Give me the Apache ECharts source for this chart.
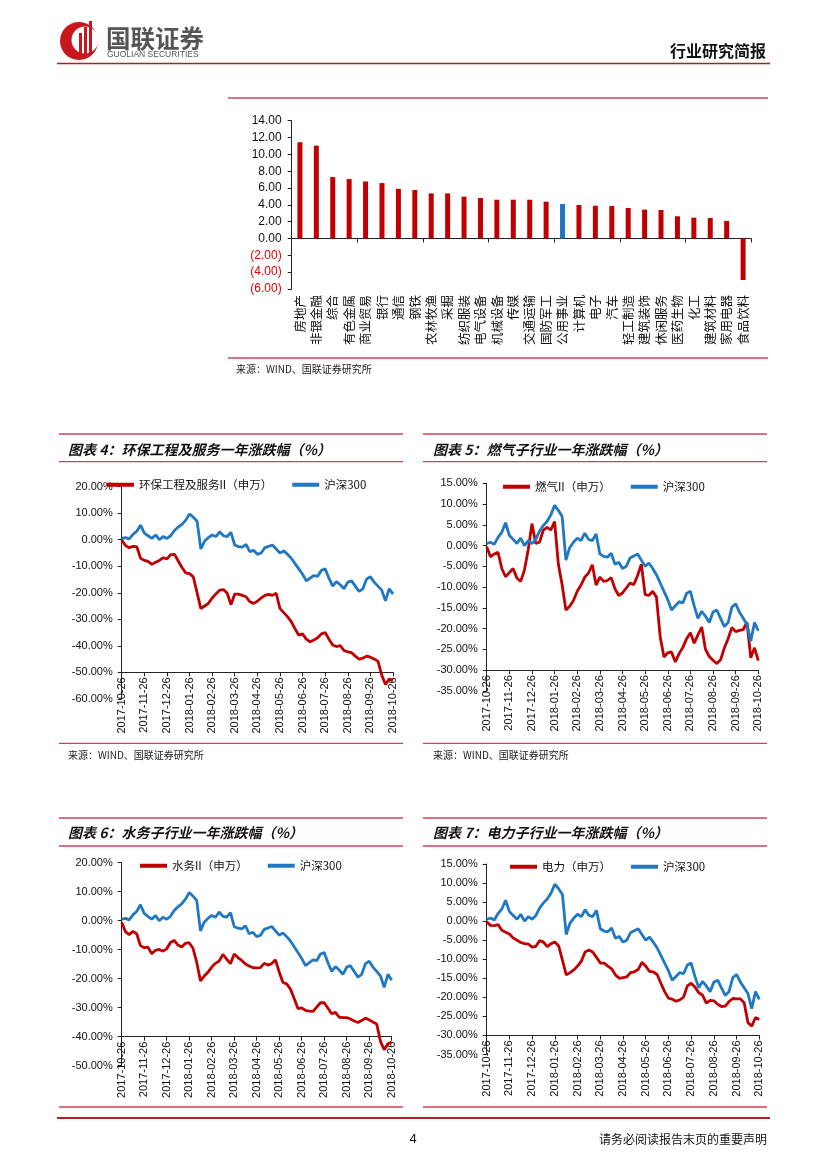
<!DOCTYPE html>
<html><head><meta charset="utf-8">
<script src="https://cdn.jsdelivr.net/npm/echarts@6/dist/echarts.min.js"></script>
<style>html,body{margin:0;padding:0;background:#fff}#c{width:827px;height:1169px}</style>
</head><body><div id="c"></div>
<script>
// ---------- Data ----------
const barCategories = ['房地产','非银金融','综合','有色金属','商业贸易','银行','通信','钢铁','农林牧渔','采掘','纺织服装','电气设备','机械设备','传媒','交通运输','国防军工','公用事业','计算机','电子','汽车','轻工制造','建筑装饰','休闲服务','医药生物','化工','建筑材料','家用电器','食品饮料'];
const barValues = [11.44,11.04,7.30,7.06,6.78,6.59,5.91,5.76,5.36,5.36,4.97,4.81,4.61,4.61,4.61,4.38,4.10,3.98,3.90,3.86,3.63,3.43,3.39,2.64,2.48,2.44,2.09,-4.93];
const barHighlight = '公用事业';
const barTicks = [-6,-4,-2,0,2,4,6,8,10,12,14];

const dates = [
 '2017-10-26','2017-11-01','2017-11-06','2017-11-11','2017-11-16','2017-11-21',
 '2017-11-26','2017-12-01','2017-12-06','2017-12-11','2017-12-16','2017-12-21',
 '2017-12-26','2018-01-01','2018-01-06','2018-01-11','2018-01-16','2018-01-21',
 '2018-01-26','2018-02-01','2018-02-06','2018-02-11','2018-02-16','2018-02-21',
 '2018-02-26','2018-03-01','2018-03-06','2018-03-11','2018-03-16','2018-03-21',
 '2018-03-26','2018-04-01','2018-04-06','2018-04-11','2018-04-16','2018-04-21',
 '2018-04-26','2018-05-01','2018-05-06','2018-05-11','2018-05-16','2018-05-21',
 '2018-05-26','2018-06-01','2018-06-06','2018-06-11','2018-06-16','2018-06-21',
 '2018-06-26','2018-07-01','2018-07-06','2018-07-11','2018-07-16','2018-07-21',
 '2018-07-26','2018-08-01','2018-08-06','2018-08-11','2018-08-16','2018-08-21',
 '2018-08-26','2018-09-01','2018-09-06','2018-09-11','2018-09-16','2018-09-21',
 '2018-09-26','2018-10-01','2018-10-06','2018-10-11','2018-10-16','2018-10-21',
 '2018-10-26'];

const hs300 = [
 0.5,0.8,0.3,2.0,3.2,5.5,
 2.5,1.5,0.5,1.8,0.0,1.2,
 0.5,1.5,3.5,4.8,5.8,7.4,
 9.7,8.5,7.0,-3.5,-0.5,0.8,
 1.8,1.2,3.0,1.5,1.2,2.8,
 -2.0,-2.6,-2.8,-1.8,-4.5,-4.0,
 -5.5,-5.0,-3.0,-2.5,-2.0,-3.5,
 -5.0,-4.2,-5.5,-7.0,-9.0,-11.0,
 -13.0,-15.5,-14.5,-13.5,-13.8,-11.5,
 -11.0,-14.5,-17.5,-15.8,-17.0,-18.5,
 -16.0,-15.5,-17.5,-19.5,-18.5,-14.8,
 -14.0,-16.0,-17.5,-19.0,-23.0,-18.5,
 -20.5];

const huanbao = [
 0,-2.2,-3.0,-2.5,-2.6,-7.0,
 -7.8,-8.2,-9.3,-8.5,-7.8,-6.8,
 -7.2,-5.6,-5.5,-8.0,-10.5,-12.5,
 -12.8,-14.0,-20.0,-26.0,-25.0,-24.0,
 -22.0,-20.5,-19.0,-18.8,-20.2,-24.5,
 -20.5,-20.5,-21.0,-21.5,-23.4,-24.0,
 -23.2,-22.0,-21.0,-20.6,-21.0,-20.2,
 -26.0,-27.5,-29.0,-30.9,-33.6,-36.0,
 -35.5,-37.5,-38.5,-37.8,-37.0,-35.5,
 -35.0,-37.5,-39.7,-40.3,-39.9,-41.8,
 -42.3,-42.6,-43.9,-45.0,-44.7,-43.9,
 -44.3,-45.0,-45.8,-51.0,-54.6,-52.5,
 -53.1];

const ranqi = [
 -0.3,-2.7,-2.0,-1.6,-5.5,-7.5,
 -6.5,-5.5,-7.8,-8.6,-5.9,-1.0,
 5.3,0.5,0.8,3.7,4.4,3.8,
 5.8,-4.5,-9.5,-15.5,-14.6,-13.2,
 -11.0,-9.5,-7.6,-6.6,-4.6,-9.5,
 -7.6,-8.6,-8.4,-7.7,-10.4,-12.0,
 -11.4,-10.2,-9.0,-9.4,-7.2,-4.5,
 -11.8,-12.0,-11.0,-12.4,-22.0,-26.8,
 -25.8,-25.6,-28.0,-26.0,-24.5,-22.4,
 -21.0,-23.5,-21.5,-19.6,-25.0,-26.7,
 -27.6,-28.4,-27.5,-24.6,-22.4,-19.7,
 -20.7,-20.4,-20.2,-18.5,-27.0,-24.6,
 -27.7];

const shuiwu = [
 -0.5,-3.8,-4.8,-3.7,-4.5,-8.6,
 -9.3,-9.1,-11.4,-10.2,-9.9,-10.5,
 -9.7,-7.5,-6.8,-8.4,-9.1,-7.8,
 -7.6,-9.5,-14.3,-20.8,-19.1,-17.8,
 -16.0,-14.7,-13.9,-11.6,-13.3,-14.8,
 -11.5,-12.7,-13.7,-14.9,-15.6,-16.2,
 -16.3,-16.2,-14.7,-15.3,-14.8,-13.5,
 -17.7,-21.3,-21.8,-23.6,-26.8,-30.3,
 -30.1,-30.9,-31.2,-31.3,-29.8,-28.3,
 -28.3,-30.2,-32.1,-31.6,-33.3,-33.4,
 -33.4,-33.9,-34.6,-35.1,-34.4,-33.6,
 -34.2,-34.9,-35.6,-41.6,-44.5,-42.4,
 -41.8];

const dianli = [
 -0.2,-1.1,-1.2,-0.9,-2.4,-2.9,
 -3.4,-4.4,-5.0,-5.6,-5.9,-6.0,
 -6.8,-6.6,-5.1,-5.5,-6.7,-5.9,
 -5.5,-6.5,-10.2,-14.1,-13.5,-12.8,
 -11.8,-10.5,-8.1,-7.6,-8.1,-9.5,
 -11.0,-11.0,-11.8,-12.5,-14.1,-15.0,
 -14.8,-14.6,-13.5,-13.3,-12.7,-10.8,
 -11.8,-13.2,-13.3,-14.0,-16.3,-18.5,
 -20.2,-20.5,-21.0,-20.7,-19.9,-17.0,
 -16.3,-17.3,-18.8,-19.4,-21.5,-20.8,
 -20.9,-21.8,-22.4,-22.3,-21.1,-20.3,
 -20.4,-20.4,-21.4,-26.6,-27.6,-25.3,
 -25.8];

const lineCharts = [
 {title:'图表 4：环保工程及服务一年涨跌幅（%）', name:'环保工程及服务II（申万）', values:huanbao, min:-60, max:20, interval:10, cross:-50},
 {title:'图表 5：燃气子行业一年涨跌幅（%）', name:'燃气II（申万）', values:ranqi, min:-35, max:15, interval:5, cross:-30},
 {title:'图表 6：水务子行业一年涨跌幅（%）', name:'水务II（申万）', values:shuiwu, min:-50, max:20, interval:10, cross:-40},
 {title:'图表 7：电力子行业一年涨跌幅（%）', name:'电力（申万）', values:dianli, min:-35, max:15, interval:5, cross:-30}
];
const benchName = '沪深300';
const sourceText = '来源：WIND、国联证券研究所';

// ---------- Layout / style ----------
const RED = '#C00000', BLUE = '#1F78C1', ROSE = '#C8435C', DARKRED = '#B01E23';
const CJK = 'Noto Sans CJK SC', NUM = 'Liberation Sans';
const layouts = [
 {left:121.7, top:486.7, width:271.3, height:212.1, legend:[107,479], boxX:[59,403], titleY:450, lineTop:434, lineTitle:461.7, lineBottom:743.3, srcY:755, textX:68},
 {left:486.7, top:483.3, width:271.6, height:207.7, legend:[503,481], boxX:[423,767], titleY:450, lineTop:434, lineTitle:461.7, lineBottom:743.3, srcY:755, textX:433},
 {left:121.7, top:862.7, width:270.0, height:203.0, legend:[140,860], boxX:[59,403], titleY:833, lineTop:818, lineTitle:846, lineBottom:1107, srcY:null, textX:68},
 {left:486.7, top:864.0, width:272.6, height:190.5, legend:[510,861], boxX:[423,767], titleY:833, lineTop:818, lineTitle:846, lineBottom:1107, srcY:null, textX:433}
];

const grid = [{left:291.7, top:120.7, width:459.6, height:168.3, outerBoundsMode:'none'}];
const xAxis = [
 {gridIndex:0, type:'category', data:barCategories, position:'bottom',
  axisLine:{show:false, onZero:false}, axisTick:{show:false},
  axisLabel:{rotate:90, fontSize:12.5, fontFamily:CJK, color:'#111', margin:6, interval:0}},
 {gridIndex:0, type:'category', data:barCategories, position:'bottom',
  axisLine:{show:true, onZero:true, lineStyle:{color:'#222', width:1}},
  axisTick:{show:true, length:4, lineStyle:{color:'#222'}}, axisLabel:{show:false}}
];
const yAxis = [
 {gridIndex:0, type:'value', min:barTicks[0], max:barTicks[barTicks.length-1], interval:2,
  axisLine:{show:true, lineStyle:{color:'#222'}}, axisTick:{show:true, length:4, lineStyle:{color:'#222'}},
  splitLine:{show:false},
  axisLabel:{fontSize:12, fontFamily:NUM, color:'#111', margin:10,
   formatter:v => v < 0 ? '{r|(' + Math.abs(v).toFixed(2) + ')}' : v.toFixed(2),
   rich:{r:{color:'#E00000', fontSize:12, fontFamily:NUM}}}}
];
const series = [
 {type:'bar', xAxisIndex:0, yAxisIndex:0, barWidth:5,
  data:barValues.map((v,i)=>({value:v, itemStyle:{color: barCategories[i]===barHighlight ? BLUE : RED}}))}
];
const legend = [];
const graphic = [];

lineCharts.forEach((c, k) => {
 const L = layouts[k];
 const gi = k + 1;
 grid.push({left:L.left, top:L.top, width:L.width, height:L.height, outerBoundsMode:'none'});
 const off = (c.cross - c.min) / (c.max - c.min) * L.height;
 xAxis.push({gridIndex:gi, type:'category', data:dates, boundaryGap:false, position:'bottom', offset:-off,
  axisLine:{show:true, onZero:false, lineStyle:{color:'#222', width:1}},
  axisTick:{show:true, interval:5, length:4, lineStyle:{color:'#222'}},
  axisLabel:{interval:5, rotate:90, fontSize:11, fontFamily:NUM, color:'#111', margin:5}});
 yAxis.push({gridIndex:gi, type:'value', min:c.min, max:c.max, interval:c.interval,
  axisLine:{show:true, lineStyle:{color:'#222'}}, axisTick:{show:true, length:4, lineStyle:{color:'#222'}},
  splitLine:{show:false},
  axisLabel:{fontSize:11, fontFamily:NUM, color:'#111', margin:9, formatter:v => v.toFixed(2) + '%'}});
 series.push({type:'line', name:c.name, xAxisIndex:gi+1, yAxisIndex:gi, data:c.values, showSymbol:false,
  lineStyle:{color:RED, width:2.8}, itemStyle:{color:RED}, z:2});
 series.push({type:'line', name:benchName, xAxisIndex:gi+1, yAxisIndex:gi, data:hs300, showSymbol:false,
  lineStyle:{color:BLUE, width:2.8}, itemStyle:{color:BLUE}, z:3});
 legend.push({left:L.legend[0], top:L.legend[1], orient:'horizontal', data:[c.name, benchName],
  icon:'rect', itemWidth:27, itemHeight:4, itemGap:20, padding:0,
  textStyle:{fontSize:11.5, fontFamily:CJK, color:'#111'}});
 graphic.push({type:'line', shape:{x1:L.boxX[0], y1:L.lineTop, x2:L.boxX[1], y2:L.lineTop}, style:{stroke:ROSE, lineWidth:1.3}});
 graphic.push({type:'line', shape:{x1:L.boxX[0], y1:L.lineTitle, x2:L.boxX[1], y2:L.lineTitle}, style:{stroke:ROSE, lineWidth:1.3}});
 graphic.push({type:'line', shape:{x1:L.boxX[0], y1:L.lineBottom, x2:L.boxX[1], y2:L.lineBottom}, style:{stroke:ROSE, lineWidth:1.3}});
 graphic.push({type:'text', x:L.textX, y:L.titleY, style:{text:c.title, fontSize:14, fontWeight:'bold', fontStyle:'italic', fontFamily:CJK, fill:'#111', textVerticalAlign:'middle'}});
 if (L.srcY) graphic.push({type:'text', x:L.textX, y:L.srcY, style:{text:sourceText, fontSize:10, fontFamily:CJK, fill:'#222', textVerticalAlign:'middle'}});
});

// header
graphic.push({type:'circle', shape:{cx:79, cy:41, r:19}, style:{fill:'#C8161D'}});
graphic.push({type:'circle', shape:{cx:85, cy:40, r:13.5}, style:{fill:'#fff'}});
graphic.push({type:'rect', shape:{x:79, y:33, width:3, height:24}, style:{fill:'#C8161D'}});
graphic.push({type:'rect', shape:{x:84, y:27, width:3, height:29}, style:{fill:'#C8161D'}});
graphic.push({type:'rect', shape:{x:89, y:21, width:3, height:33}, style:{fill:'#C8161D'}});
graphic.push({type:'text', x:106, y:39, style:{text:'国联证券', fontSize:24.5, fontWeight:'bold', fontFamily:CJK, fill:'#555', textVerticalAlign:'middle'}});
graphic.push({type:'text', x:107, y:54.5, style:{text:'GUOLIAN SECURITIES', fontSize:8.5, fontFamily:NUM, fill:'#555', textVerticalAlign:'middle'}});
graphic.push({type:'text', x:766, y:51, style:{text:'行业研究简报', fontSize:16, fontWeight:'bold', fontFamily:CJK, fill:'#111', textAlign:'right', textVerticalAlign:'middle'}});
graphic.push({type:'line', shape:{x1:57, y1:63.5, x2:770, y2:63.5}, style:{stroke:DARKRED, lineWidth:1.5}});
// bar chart section
graphic.push({type:'line', shape:{x1:228, y1:98, x2:768, y2:98}, style:{stroke:ROSE, lineWidth:1.3}});
graphic.push({type:'line', shape:{x1:228, y1:358, x2:768, y2:358}, style:{stroke:ROSE, lineWidth:1.3}});
graphic.push({type:'text', x:236, y:369, style:{text:sourceText, fontSize:10, fontFamily:CJK, fill:'#222', textVerticalAlign:'middle'}});
// footer
graphic.push({type:'line', shape:{x1:57, y1:1118, x2:770, y2:1118}, style:{stroke:DARKRED, lineWidth:2}});
graphic.push({type:'text', x:413, y:1139, style:{text:'4', fontSize:13, fontFamily:NUM, fill:'#111', textAlign:'center', textVerticalAlign:'middle'}});
graphic.push({type:'text', x:767, y:1139, style:{text:'请务必阅读报告末页的重要声明', fontSize:12, fontFamily:CJK, fill:'#111', textAlign:'right', textVerticalAlign:'middle'}});

const chart = echarts.init(document.getElementById('c'), null, {renderer:'canvas'});
chart.setOption({animation:false, backgroundColor:'#fff', grid, xAxis, yAxis, series, legend, graphic});
</script>
</body></html>
